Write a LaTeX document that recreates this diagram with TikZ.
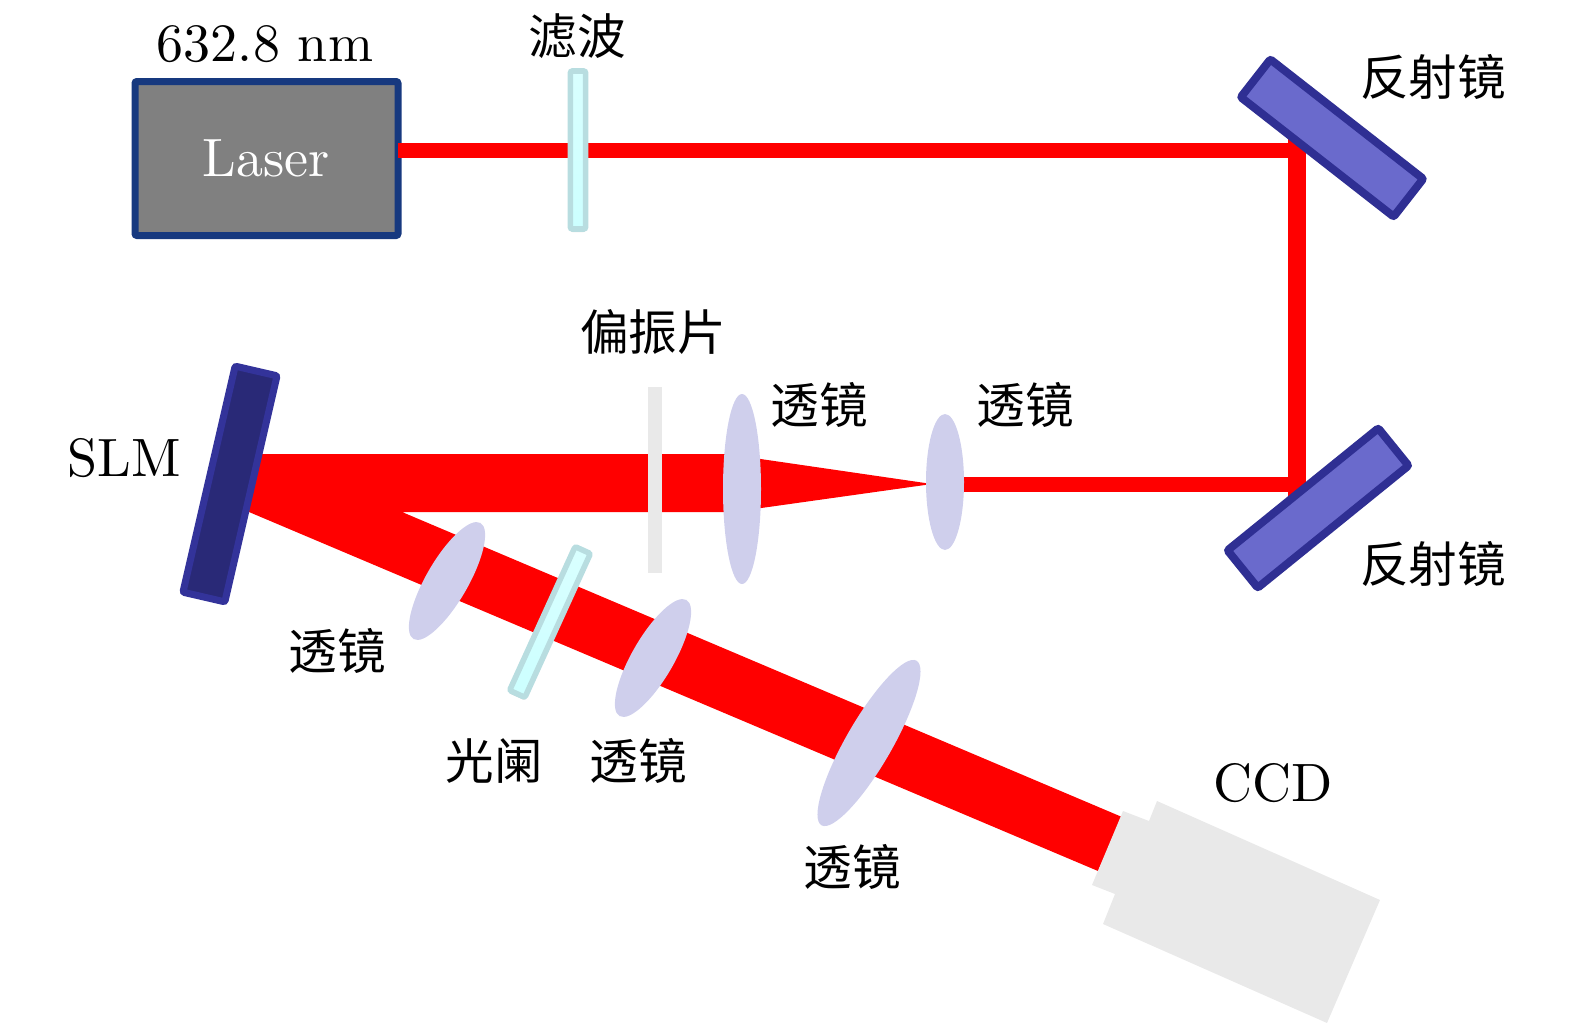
\documentclass[tikz,border=0pt]{standalone}
\usepackage{fontspec}
\newfontfamily\cjk{Noto Sans CJK SC}
\newfontfamily\lmten{lmroman10-regular.otf}
\usetikzlibrary{shapes.geometric,shadows}
\definecolor{laserblue}{RGB}{23, 57, 127}
\definecolor{lasergray}{RGB}{128, 128, 128}
\definecolor{beamred}{RGB}{255, 0, 0}
\definecolor{mirrorfill}{RGB}{106, 106, 204}
\definecolor{mirrordraw}{RGB}{47, 47, 147}
\definecolor{slmfill}{RGB}{41, 41, 119}
\definecolor{slmdraw}{RGB}{51, 51, 154}
\definecolor{lensfill}{RGB}{207, 207, 236}
\definecolor{plategray}{RGB}{233, 233, 233}
\definecolor{filterdraw}{RGB}{184, 221, 224}
\tikzset{
  beam/.style={draw=beamred, line cap=butt},
  beamfill/.style={fill=beamred},
  mirror/.style={
    draw=mirrordraw, line width=4pt, rounded corners=1pt,
    fill=mirrorfill, minimum width=97pt, minimum height=24pt
  },
  lens/.style={ellipse, fill=lensfill, inner sep=0pt},
  filterplate/.style={
    draw=filterdraw, line width=2.8pt, rounded corners=1pt,
    top color=white!85!cyan, bottom color=white!80!cyan,
    inner sep=0pt, drop shadow={shadow xshift=0pt, shadow yshift=-1.5pt, opacity=.3}
  },
  lab/.style={font=\fontsize{27}{30}\selectfont\lmten},
  cjklab/.style={font=\fontsize{24.3}{28}\selectfont\cjk}
}
\begin{document}
\begin{tikzpicture}[x=0.5pt,y=-0.5pt]
\useasboundingbox (0,0) rectangle (1575,1033);

\coordinate (hitA) at (1297,125);
\coordinate (hitB) at (1297,505);
\coordinate (turnA) at (1297,150);
\coordinate (turnB) at (1297,484);
\coordinate (lensB) at (941,484);

\node[draw=laserblue, line width=3.5pt, rounded corners=1pt, fill=lasergray,
  minimum width=131.5pt, minimum height=77pt, text=white, lab] (laser) at (266.5,158.5) {Laser};

\draw[beam, line width=7.5pt] ([xshift=-2pt]laser.east |- turnA) -- (turnA);
\draw[beam, line width=9pt] (hitA) -- (hitB);
\draw[beam, line width=7.5pt] (turnB) -- (lensB);
\fill[beamfill] (740,456) -- (932,484) -- (740,511) -- cycle;
\fill[beamfill] (255,454) -- (730,454) -- (730,512) -- (402,512) -- (1122,817)
  -- (1098,871) -- (249,512) -- cycle;

\node[filterplate, minimum width=7.6pt, minimum height=79pt] (filter) at (578,150) {};
\node[mirror, rotate=-38] (mirrorA) at (1332,138) {};
\node[mirror, rotate=39] (mirrorB) at (1318,508) {};
\node[draw=slmdraw, line width=3.5pt, rounded corners=1pt, fill=slmfill, rotate=-13,
  minimum width=21.5pt, minimum height=116pt] (slm) at (230,484) {};

\node[fill=plategray, minimum width=7pt, minimum height=93pt, inner sep=0pt] (polarizer) at (655,480) {};

\node[lens, minimum width=19pt, minimum height=95pt] (lensA) at (742,489) {};
\node[lens, minimum width=19pt, minimum height=68pt] (lensC) at (945,482) {};
\node[lens, rotate=-30, minimum width=21pt, minimum height=67pt] (lensD) at (447,581) {};
\node[lens, rotate=-30, minimum width=21pt, minimum height=67pt] (lensE) at (653,658) {};
\node[lens, rotate=-30, minimum width=23pt, minimum height=95pt] (lensF) at (869,743) {};

\node[filterplate, rotate=-24.5, minimum width=8.4pt, minimum height=79pt] (iris) at (550,622) {};

\fill[plategray] (1123,811) -- (1149,821) -- (1157,801) -- (1380,900) -- (1327,1023)
  -- (1103,924) -- (1115,894) -- (1092,885) -- cycle;

\node[lab] (wave) at (265,44) {632.8\,\,nm};
\node[cjklab] (filterlab) at (577,36) {滤波};
\node[cjklab] (mirrorlabA) at (1433,77) {反射镜};
\node[cjklab] (mirrorlabB) at (1433,564) {反射镜};
\node[cjklab] (polarlab) at (653,332) {偏振片};
\node[cjklab] (lenslabA) at (819,405) {透镜};
\node[cjklab] (lenslabC) at (1025,405) {透镜};
\node[cjklab] (lenslabD) at (337,651) {透镜};
\node[cjklab] (lenslabE) at (638,761) {透镜};
\node[cjklab] (lenslabF) at (852,867) {透镜};
\node[cjklab] (irislab) at (494,761) {光阑};
\node[lab] (slmlab) at (124,458) {SLM};
\node[lab] (ccdlab) at (1273,783) {CCD};
\end{tikzpicture}
\end{document}
